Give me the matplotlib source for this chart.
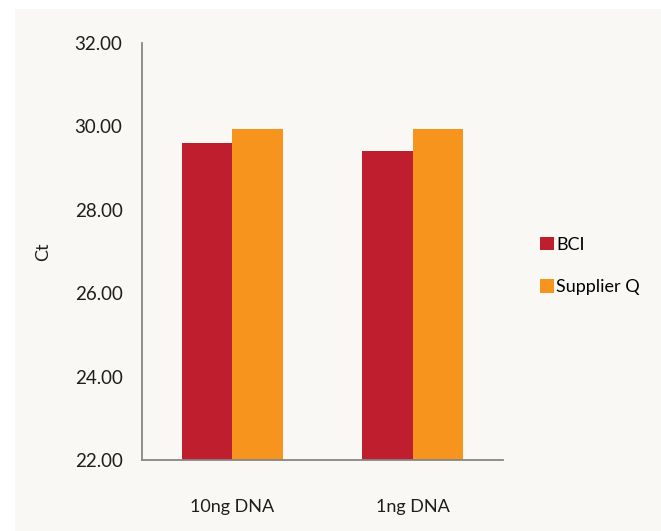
import matplotlib.pyplot as plt
import numpy
from matplotlib.patches import Rectangle

categories = ["10ng DNA", "1ng DNA"]
series_names = ["BCI", "Supplier Q"]
bci_values = [29.60, 29.40]
supplier_q_values = [29.93, 29.93]
y_ticks = [22, 24, 26, 28, 30, 32]

plt.rcParams["font.family"] = ["Lato", "DejaVu Sans"]

figure = plt.figure(figsize=(6.61, 5.31), dpi=100, facecolor="white")
backdrop = Rectangle((15 / 661, 0), 1, 1 - 9 / 531, transform=figure.transFigure,
                     facecolor="#f9f8f4", edgecolor="none", zorder=-10)
figure.patches.append(backdrop)

axes = figure.add_axes([142 / 661, 1 - 460 / 531, 361 / 661, 417 / 531])
axes.set_facecolor("none")
axes.set_zorder(5)

positions = numpy.arange(len(categories))
bar_width = 0.28
axes.bar(positions - bar_width / 2, bci_values, bar_width, color="#be1e2d", label=series_names[0])
axes.bar(positions + bar_width / 2, supplier_q_values, bar_width, color="#f7941d", label=series_names[1])

axes.set_xlim(-0.5, 1.5)
axes.set_ylim(22, 32)
axes.set_yticks(y_ticks)
axes.set_yticklabels([f"{value:.2f}" for value in y_ticks], fontsize=13.5, color="#1e1e1e")
axes.set_xticks(positions)
axes.set_xticklabels(categories, fontsize=13, color="#1e1e1e")
axes.tick_params(axis="y", length=0, pad=14)
axes.tick_params(axis="x", length=0, pad=28)

for side in ["top", "right"]:
    axes.spines[side].set_visible(False)
for side in ["left", "bottom"]:
    axes.spines[side].set_color("#868686")
    axes.spines[side].set_linewidth(1.3)

axes.set_ylabel("Ct", fontsize=13, color="#1e1e1e", labelpad=17)

axes.legend(loc="center left", bbox_to_anchor=((533 - 142) / 361, 0.465), frameon=False,
            fontsize=13, handlelength=0.75, handleheight=0.75, handletextpad=0.15,
            labelspacing=1.45, borderaxespad=0)

figure.savefig("out.png", dpi=100, facecolor=figure.get_facecolor())
